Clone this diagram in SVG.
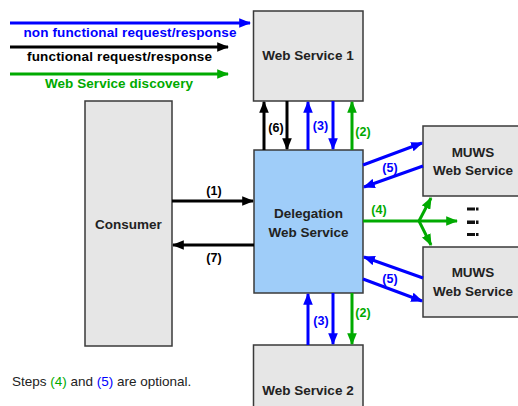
<svg xmlns="http://www.w3.org/2000/svg" width="518" height="406" viewBox="0 0 518 406">
<style>
.box{fill:#e6e6e6;stroke:#3a3a3a;stroke-width:1.5}
.deleg{fill:#9fcdf9;stroke:#3a3a3a;stroke-width:1.5}
.t{font-family:"Liberation Sans",Arial,sans-serif;font-weight:bold;font-size:13.5px;text-anchor:middle;fill:#222}
.lb{font-family:"Liberation Sans",Arial,sans-serif;font-weight:bold;font-size:12.5px;text-anchor:middle}
.lg{font-family:"Liberation Sans",Arial,sans-serif;font-weight:bold;font-size:13.5px;text-anchor:middle}
.k{stroke:#000;stroke-width:3;fill:none}
.b{stroke:#0000ff;stroke-width:3;fill:none}
.g{stroke:#00aa00;stroke-width:3;fill:none}
</style>
<defs>
<marker id="ak" viewBox="0 0 10 8" refX="9" refY="4" markerWidth="4" markerHeight="3.2" orient="auto" markerUnits="strokeWidth"><path d="M0,0 L10,4 L0,8 z" fill="#000"/></marker>
<marker id="ab" viewBox="0 0 10 8" refX="9" refY="4" markerWidth="4" markerHeight="3.2" orient="auto" markerUnits="strokeWidth"><path d="M0,0 L10,4 L0,8 z" fill="#0000ff"/></marker>
<marker id="ag" viewBox="0 0 10 8" refX="9" refY="4" markerWidth="4" markerHeight="3.2" orient="auto" markerUnits="strokeWidth"><path d="M0,0 L10,4 L0,8 z" fill="#00aa00"/></marker>
</defs>
<rect width="518" height="406" fill="#fff"/>

<g id="legend">
<line class="b" x1="10" y1="23" x2="250" y2="23" marker-end="url(#ab)"/>
<text class="lg" x="130" y="37" fill="#0000ff" textLength="213">non functional request/response</text>
<line class="k" x1="10" y1="47" x2="228" y2="47" marker-end="url(#ak)"/>
<text class="lg" x="119.5" y="61" fill="#000" textLength="185">functional request/response</text>
<line class="g" x1="10" y1="74" x2="228" y2="74" marker-end="url(#ag)"/>
<text class="lg" x="119" y="88" fill="#00aa00" textLength="148">Web Service discovery</text>
</g>

<g id="ws1"><rect class="box" x="253.5" y="11" width="109.5" height="90"/><text class="t" x="308" y="60">Web Service 1</text></g>
<g id="consumer"><rect class="box" x="85" y="101" width="87" height="245"/><text class="t" x="128.5" y="229">Consumer</text></g>
<g id="delegation"><rect class="deleg" x="254" y="150" width="109" height="143"/><text class="t" x="308.5" y="218">Delegation</text><text class="t" x="308.5" y="237">Web Service</text></g>
<g id="muws1"><rect class="box" x="423" y="126" width="100" height="70"/><text class="t" x="473" y="157">MUWS</text><text class="t" x="473" y="175">Web Service</text></g>
<g id="muws2"><rect class="box" x="423" y="247" width="100" height="70"/><text class="t" x="473" y="277">MUWS</text><text class="t" x="473" y="296">Web Service</text></g>
<g id="ws2"><rect class="box" x="253.5" y="345" width="109.5" height="70"/><text class="t" x="308" y="395">Web Service 2</text></g>

<g id="connectors">
<line class="k" x1="264" y1="150" x2="264" y2="102" marker-end="url(#ak)"/>
<line class="k" x1="287" y1="101" x2="287" y2="149" marker-end="url(#ak)"/>
<line class="b" x1="308" y1="150" x2="308" y2="102" marker-end="url(#ab)"/>
<line class="b" x1="333" y1="101" x2="333" y2="149" marker-end="url(#ab)"/>
<line class="g" x1="352" y1="150" x2="352" y2="102" marker-end="url(#ag)"/>
<text class="lb" x="276" y="132" fill="#000">(6)</text>
<text class="lb" x="320.5" y="130" fill="#0000ff">(3)</text>
<text class="lb" x="363" y="136" fill="#00aa00">(2)</text>

<line class="b" x1="308" y1="345" x2="308" y2="294" marker-end="url(#ab)"/>
<line class="b" x1="333" y1="293" x2="333" y2="344" marker-end="url(#ab)"/>
<line class="g" x1="352" y1="293" x2="352" y2="344" marker-end="url(#ag)"/>
<text class="lb" x="321" y="325" fill="#0000ff">(3)</text>
<text class="lb" x="363" y="317" fill="#00aa00">(2)</text>

<line class="k" x1="172" y1="201" x2="253" y2="201" stroke-width="2.5" marker-end="url(#ak)"/>
<line class="k" x1="254" y1="245" x2="173" y2="245" marker-end="url(#ak)"/>
<text class="lb" x="214" y="195" fill="#000">(1)</text>
<text class="lb" x="214" y="262" fill="#000">(7)</text>

<line class="b" x1="363" y1="165" x2="422" y2="143" stroke-width="2.5" marker-end="url(#ab)"/>
<line class="b" x1="423" y1="166" x2="364" y2="187" stroke-width="2.5" marker-end="url(#ab)"/>
<text class="lb" x="390" y="172" fill="#0000ff">(5)</text>
<line class="b" x1="423" y1="278" x2="364" y2="257" stroke-width="2.5" marker-end="url(#ab)"/>
<line class="b" x1="363" y1="279" x2="422" y2="301" stroke-width="2.5" marker-end="url(#ab)"/>
<text class="lb" x="390" y="283" fill="#0000ff">(5)</text>

<line class="g" x1="363" y1="221" x2="457" y2="221" marker-end="url(#ag)"/>
<line class="g" x1="419" y1="221" x2="431" y2="198" stroke-width="2.5" marker-end="url(#ag)"/>
<line class="g" x1="419" y1="221" x2="431" y2="245" stroke-width="2.5" marker-end="url(#ag)"/>
<text class="lb" x="379" y="214" fill="#00aa00">(4)</text>
</g>

<g id="ellipsis" fill="#111">
<rect x="467" y="207.5" width="8" height="3"/><rect x="476" y="207.5" width="2.5" height="3"/>
<rect x="467" y="220.5" width="8" height="3.5"/><rect x="476" y="220.5" width="2.5" height="3.5"/>
<rect x="467" y="233" width="8" height="3"/><rect x="476" y="233" width="2.5" height="3"/>
</g>

<text x="12" y="386" font-family="Liberation Sans,Arial,sans-serif" font-size="13.5" fill="#222">Steps <tspan fill="#00aa00">(4)</tspan> and <tspan fill="#0000ff">(5)</tspan> are optional.</text>
</svg>
